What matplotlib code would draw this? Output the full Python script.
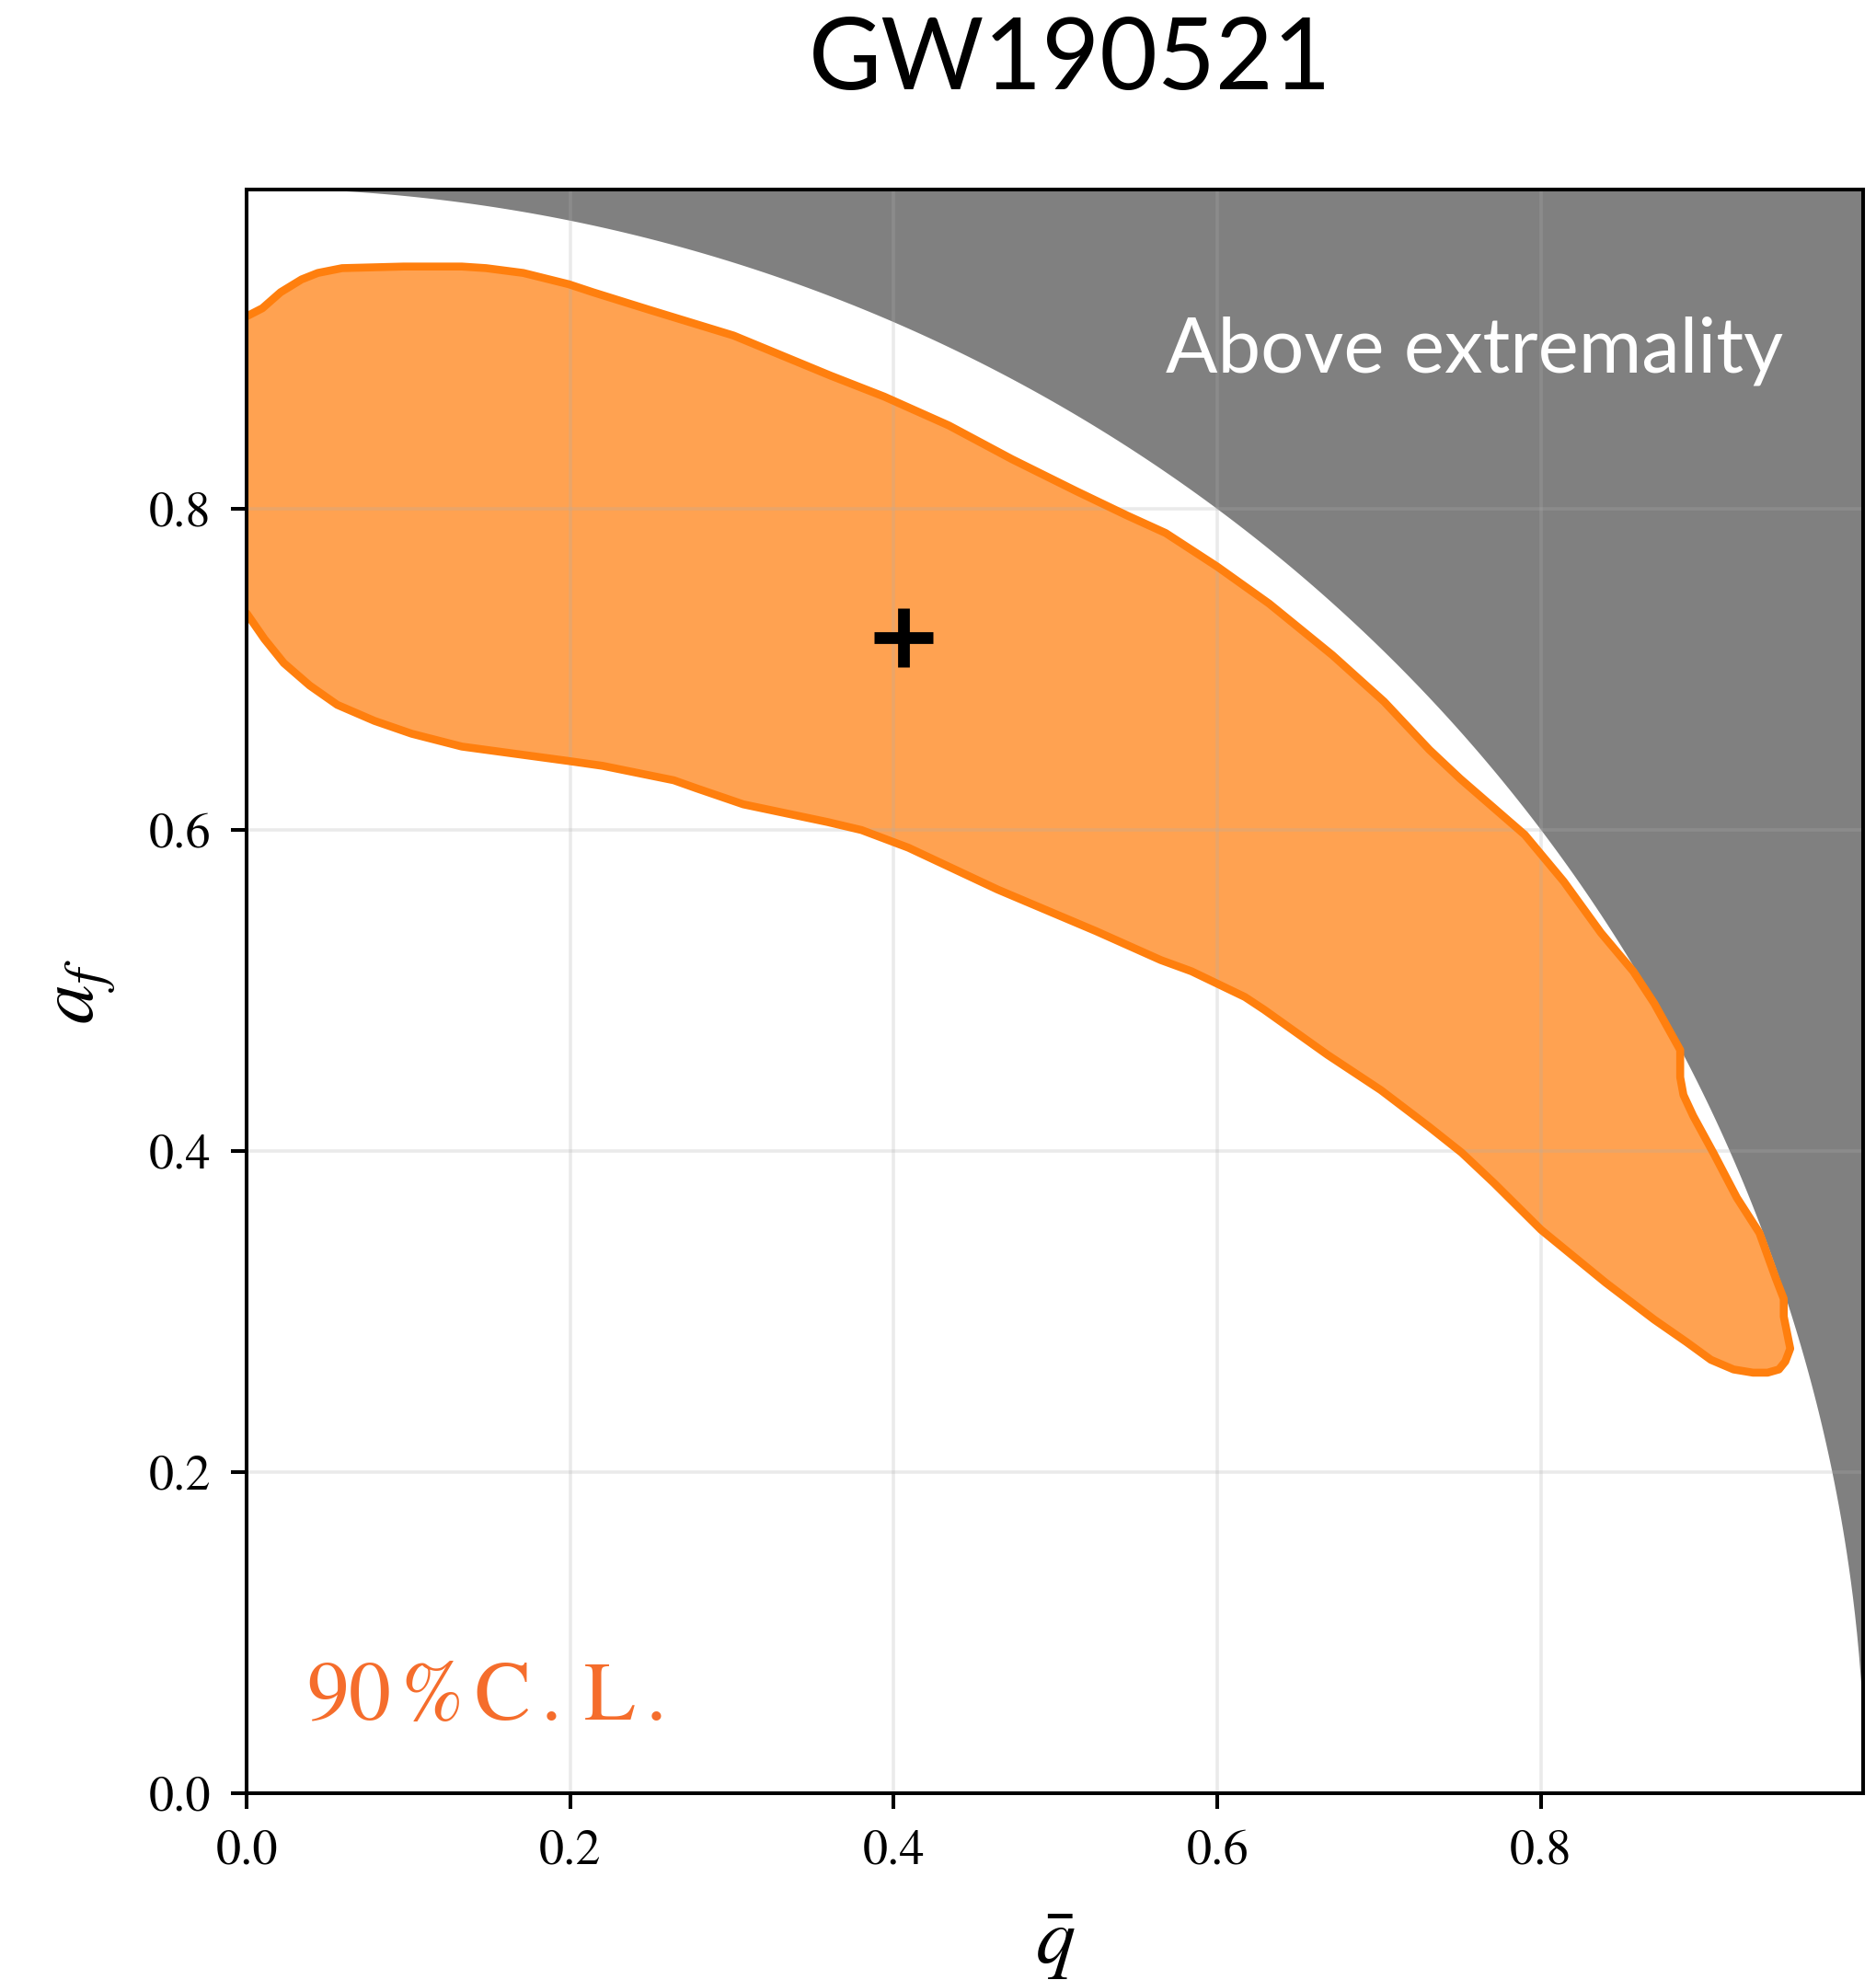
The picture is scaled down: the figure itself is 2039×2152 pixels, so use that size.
import numpy as np
import matplotlib
matplotlib.use("Agg")
import matplotlib.pyplot as plt

plt.rcParams["mathtext.fontset"] = "stix"
plt.rcParams["font.family"] = ["STIXGeneral", "DejaVu Serif"]

# 90% credible region boundary in the (q_bar, a_f) plane:
# upper edge (left to right), rounded tip, then lower edge (right to left)
q_contour = [
    0.000, 0.0097, 0.021, 0.034, 0.044, 0.059, 0.097, 0.133, 0.148, 0.171,
    0.199, 0.214, 0.249, 0.301, 0.361, 0.394, 0.434, 0.473, 0.513, 0.544,
    0.568, 0.600, 0.632, 0.671, 0.703, 0.731, 0.750, 0.790, 0.814, 0.837,
    0.857, 0.870, 0.886, 0.886, 0.888, 0.894, 0.907, 0.921, 0.935, 0.945,
    0.950, 0.950, 0.954, 0.951, 0.947, 0.940, 0.931, 0.919, 0.905, 0.890,
    0.870, 0.840, 0.800, 0.771, 0.751, 0.731, 0.701, 0.668, 0.629, 0.617,
    0.584, 0.565, 0.525, 0.464, 0.409, 0.380, 0.359, 0.307, 0.278, 0.264,
    0.220, 0.199, 0.155, 0.133, 0.102, 0.079, 0.056, 0.039, 0.023, 0.011,
    0.000,
]
af_contour = [
    0.920, 0.925, 0.935, 0.943, 0.947, 0.950, 0.951, 0.951, 0.950, 0.947,
    0.940, 0.935, 0.924, 0.908, 0.883, 0.870, 0.852, 0.831, 0.811, 0.796,
    0.785, 0.764, 0.741, 0.709, 0.680, 0.650, 0.632, 0.597, 0.568, 0.536,
    0.512, 0.492, 0.463, 0.446, 0.435, 0.422, 0.398, 0.371, 0.349, 0.321,
    0.308, 0.297, 0.277, 0.269, 0.264, 0.262, 0.262, 0.264, 0.270, 0.281,
    0.295, 0.318, 0.351, 0.380, 0.399, 0.415, 0.438, 0.460, 0.488, 0.496,
    0.512, 0.519, 0.537, 0.563, 0.589, 0.600, 0.605, 0.616, 0.626, 0.631,
    0.640, 0.643, 0.649, 0.652, 0.660, 0.668, 0.678, 0.690, 0.704, 0.719,
    0.735,
]

# maximum-likelihood point
q_best = 0.406
af_best = 0.720

title = "GW190521"
region_label = "Above extremality"
cl_label = r"$90\,\%\,\mathrm{C\,.\,L\,.}$"
xticks = [0.0, 0.2, 0.4, 0.6, 0.8]
yticks = [0.0, 0.2, 0.4, 0.6, 0.8]

fig = plt.figure(figsize=(10.2, 10.76), dpi=200)
ax = fig.add_axes([0.1314, 0.0943, 0.8612, 0.8100])

# Kerr bound: a_f^2 + q_bar^2 <= 1
qq = np.linspace(0, 1, 800)
ax.fill_between(qq, np.sqrt(np.clip(1 - qq**2, 0, None)), 1.05,
                color="#808080", lw=0, zorder=1)

ax.fill(q_contour, af_contour, facecolor="#ff7f0e", alpha=0.72,
        edgecolor="none", zorder=2)
ax.plot(q_contour, af_contour, color="#ff7f0e", lw=3.1, zorder=3,
        solid_joinstyle="round", solid_capstyle="round")

ax.plot(q_best, af_best, marker="+", ms=22.7, mew=4.6, color="black",
        ls="none", zorder=5)

ax.text(0.568, 0.885, region_label, color="white", fontsize=30,
        family=["Lato", "DejaVu Sans"], ha="left", va="baseline", zorder=6)
ax.text(0.037, 0.046, cl_label, color="#f56d2c", fontsize=33,
        ha="left", va="baseline", zorder=6)

ax.set_xlim(0, 0.999)
ax.set_ylim(0, 0.999)
ax.set_xticks(xticks)
ax.set_yticks(yticks)
ax.set_xticklabels([f"{t:.1f}" for t in xticks])
ax.set_yticklabels([f"{t:.1f}" for t in yticks])

ax.grid(True, color="#afafaf", alpha=0.25, lw=1.3, zorder=4)
ax.set_axisbelow(False)

for sp in ax.spines.values():
    sp.set_linewidth(1.45)
    sp.set_zorder(7)
ax.tick_params(axis="both", which="major", direction="out", length=6,
               width=1.45, labelsize=19.5, pad=8, top=False, right=False)

ax.set_xlabel(r"$\bar{q}$", fontsize=31, labelpad=14)
ax.set_ylabel(r"$a_f$", fontsize=31, labelpad=12)

fig.text(0.570, 0.969, title, fontsize=39,
         family=["Lato", "DejaVu Sans"], ha="center", va="center")

fig.savefig("out.png", dpi=200)
